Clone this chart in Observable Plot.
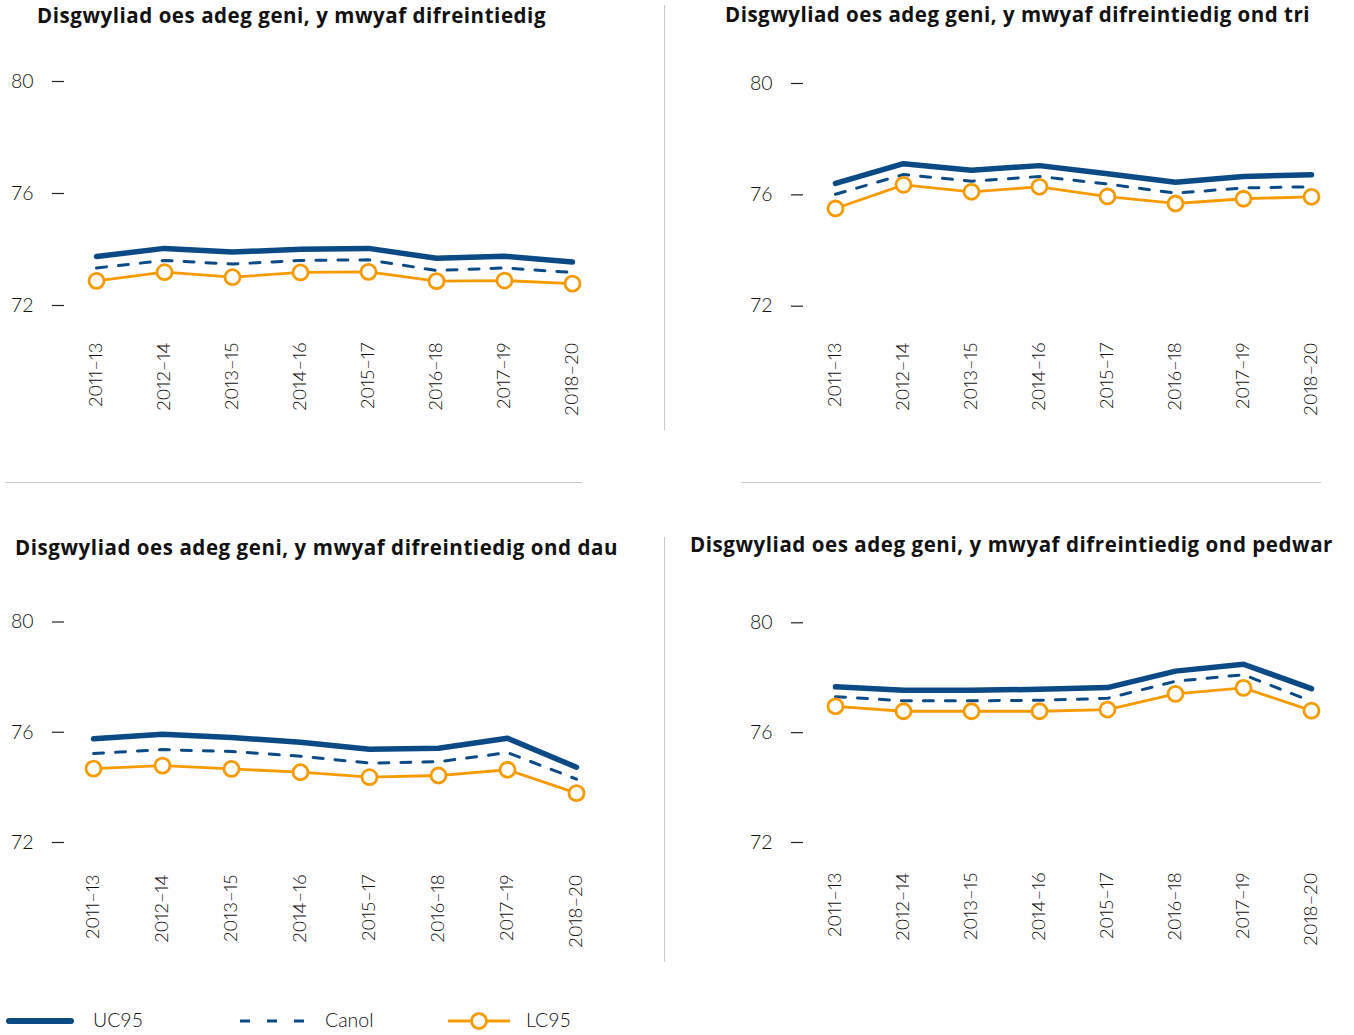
<!DOCTYPE html>
<html><head><meta charset="utf-8">
<script src="https://cdn.jsdelivr.net/npm/d3@7"></script>
<script src="https://cdn.jsdelivr.net/npm/@observablehq/plot@0.6"></script>
<style>
body{margin:0;background:#fff;font-family:Lato,"Open Sans",sans-serif;}
#root{position:relative;width:1354px;height:1035px;overflow:hidden;background:#fff;}
.title{position:absolute;font-family:"Open Sans",Lato,sans-serif;font-weight:700;font-size:20.5px;color:#111;white-space:nowrap;line-height:1;}
.panel{position:absolute;}
.hr{position:absolute;height:1px;background:#c8c8c8;}
.vr{position:absolute;width:1px;background:#c8c8c8;}
.leg{position:absolute;font-size:19.5px;font-weight:300;color:#111;line-height:1;white-space:nowrap;}
.panel svg [aria-label="x-axis tick label"]{fill:#111;font-variant:normal;font-variant-numeric:proportional-nums;}
.panel svg [aria-label="y-axis tick label"]{fill:#111;}
.panel svg [aria-label="x-axis tick label"] text{font-size:18.5px;}
.panel svg [aria-label="y-axis tick label"] text{font-size:19.5px;}
</style></head><body><div id="root"></div>
<script>
const periods = ["2011–13","2012–14","2013–15","2014–16","2015–17","2016–18","2017–19","2018–20"];
const yTicks = [72, 76, 80];
const seriesNames = ["UC95", "Canol", "LC95"];
const titles = [
  "Disgwyliad oes adeg geni, y mwyaf difreintiedig",
  "Disgwyliad oes adeg geni, y mwyaf difreintiedig ond tri",
  "Disgwyliad oes adeg geni, y mwyaf difreintiedig ond dau",
  "Disgwyliad oes adeg geni, y mwyaf difreintiedig ond pedwar"
];
// Panel 1: y mwyaf difreintiedig
const uc95_p1  = [73.75, 74.04, 73.91, 74.01, 74.04, 73.69, 73.76, 73.55];
const canol_p1 = [73.34, 73.61, 73.48, 73.61, 73.63, 73.25, 73.34, 73.18];
const lc95_p1  = [72.88, 73.19, 73.01, 73.18, 73.20, 72.87, 72.89, 72.78];
// Panel 2: ond tri
const uc95_p2  = [76.41, 77.12, 76.88, 77.05, 76.76, 76.45, 76.66, 76.72];
const canol_p2 = [76.02, 76.73, 76.49, 76.66, 76.39, 76.06, 76.25, 76.29];
const lc95_p2  = [75.51, 76.36, 76.11, 76.29, 75.94, 75.69, 75.86, 75.93];
// Panel 3: ond dau
const uc95_p3  = [75.76, 75.93, 75.81, 75.64, 75.38, 75.42, 75.78, 74.73];
const canol_p3 = [75.23, 75.37, 75.30, 75.13, 74.88, 74.93, 75.26, 74.30];
const lc95_p3  = [74.68, 74.79, 74.67, 74.55, 74.37, 74.43, 74.64, 73.79];
// Panel 4: ond pedwar
const uc95_p4  = [77.67, 77.54, 77.54, 77.58, 77.64, 78.24, 78.49, 77.60];
const canol_p4 = [77.31, 77.16, 77.16, 77.18, 77.25, 77.87, 78.11, 77.14];
const lc95_p4  = [76.96, 76.78, 76.78, 76.78, 76.84, 77.41, 77.63, 76.80];

const NAVY = "#0b4a84", ORANGE = "#f59b00";
const root = document.getElementById("root");

function toRows(arr){ return arr.map((v,i)=>({period: periods[i], value: v})); }

const layouts = [
  {left:0,   top:40,  xr:[93,575],   yr:[265,41],    ml:64,  mb:121, tx:37,  tb:24,   tw:509},
  {left:680, top:40,  xr:[152,633],  yr:[265.7,43],  ml:123, mb:121, tx:725, tb:22.5, tw:585},
  {left:0,   top:575, xr:[93,576],   yr:[267,46.5],  ml:64,  mb:124, tx:15,  tb:556,  tw:603},
  {left:680, top:575, xr:[152,633],  yr:[267,47.3],  ml:123, mb:126, tx:690, tb:553,  tw:643}
];
const data = [
  [uc95_p1, canol_p1, lc95_p1],
  [uc95_p2, canol_p2, lc95_p2],
  [uc95_p3, canol_p3, lc95_p3],
  [uc95_p4, canol_p4, lc95_p4]
];

layouts.forEach((L, k) => {
  const [uc, ca, lc] = data[k].map(toRows);
  const chart = Plot.plot({
    width: 660, height: 420,
    marginLeft: L.ml, marginRight: 0, marginTop: 0, marginBottom: L.mb,
    style: {fontFamily: "Lato, 'Open Sans', sans-serif", fontWeight: 300, color: "#111", background: "transparent", overflow: "visible"},
    x: {type: "point", domain: periods, range: L.xr, padding: 0},
    y: {domain: [72, 80], range: L.yr},
    marks: [
      Plot.axisY({ticks: yTicks, tickSize: 12, tickPadding: 19, label: null, stroke: "#222", strokeWidth: 1.2}),
      Plot.axisX({tickRotate: -90, tickSize: 0, tickPadding: 3, label: null}),
      Plot.line(uc, {x: "period", y: "value", stroke: NAVY, strokeWidth: 5.5, strokeLinejoin: "round"}),
      Plot.line(ca, {x: "period", y: "value", stroke: NAVY, strokeWidth: 3, strokeDasharray: "10,12"}),
      Plot.line(lc, {x: "period", y: "value", stroke: ORANGE, strokeWidth: 2.8}),
      Plot.dot(lc, {x: "period", y: "value", r: 7.5, fill: "white", stroke: ORANGE, strokeWidth: 2.8})
    ]
  });
  const div = document.createElement("div");
  div.className = "panel";
  div.style.left = L.left + "px";
  div.style.top = L.top + "px";
  div.appendChild(chart);
  root.appendChild(div);

  const t = document.createElement("div");
  t.className = "title";
  t.textContent = titles[k];
  t.style.left = L.tx + "px";
  t.style.top = (L.tb - 19) + "px";
  root.appendChild(t);
  const w = t.getBoundingClientRect().width;
  const n = titles[k].length;
  t.style.letterSpacing = ((L.tw - w) / n).toFixed(3) + "px";
});

// dividers
[[5,482,577],[741,482,580]].forEach(([x,y,w])=>{const d=document.createElement("div");d.className="hr";d.style.left=x+"px";d.style.top=y+"px";d.style.width=w+"px";root.appendChild(d);});
[[664,5,425],[664,537,425]].forEach(([x,y,h])=>{const d=document.createElement("div");d.className="vr";d.style.left=x+"px";d.style.top=y+"px";d.style.height=h+"px";root.appendChild(d);});

// legend
const legSvg = document.createElementNS("http://www.w3.org/2000/svg","svg");
legSvg.setAttribute("width","600"); legSvg.setAttribute("height","34");
legSvg.style.position="absolute"; legSvg.style.left="0px"; legSvg.style.top="1004px";
legSvg.innerHTML = `
  <line x1="9" x2="71" y1="17" y2="17" stroke="${NAVY}" stroke-width="6" stroke-linecap="round"/>
  <line x1="240" x2="305" y1="17" y2="17" stroke="${NAVY}" stroke-width="3" stroke-dasharray="10,17"/>
  <line x1="448" x2="510" y1="17" y2="17" stroke="${ORANGE}" stroke-width="2.8"/>
  <circle cx="479" cy="17" r="7.5" fill="white" stroke="${ORANGE}" stroke-width="2.8"/>`;
root.appendChild(legSvg);
[[93,seriesNames[0]],[325,seriesNames[1]],[526,seriesNames[2]]].forEach(([x,s])=>{
  const l=document.createElement("div");l.className="leg";l.textContent=s;l.style.left=x+"px";l.style.top=(1027-17.5)+"px";root.appendChild(l);
});
</script></body></html>
